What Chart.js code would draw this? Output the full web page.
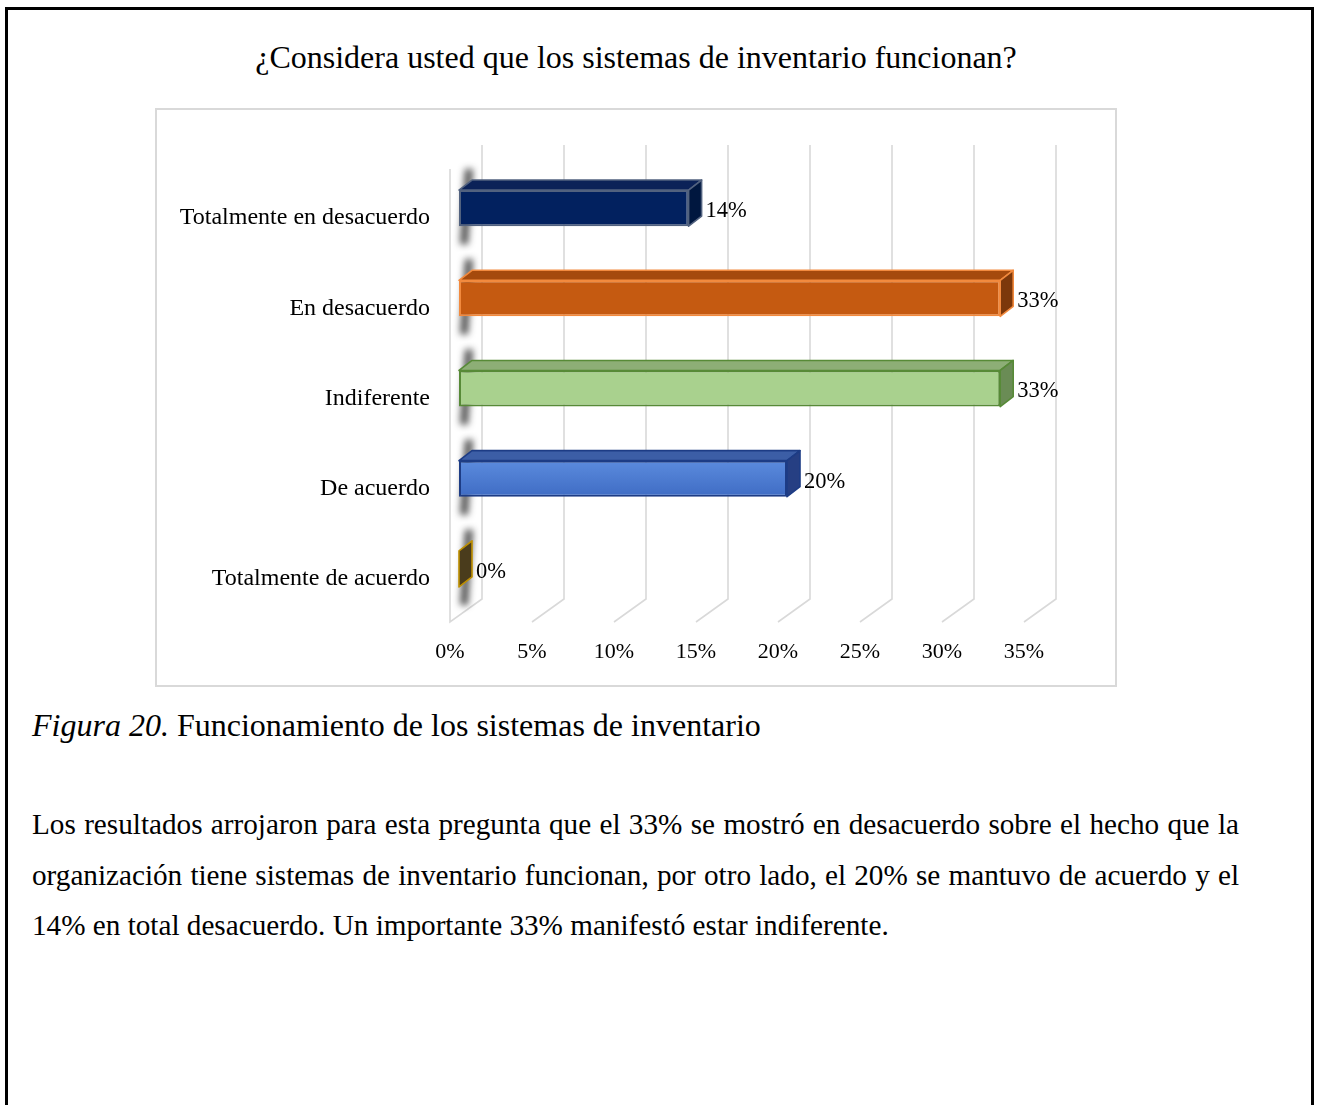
<!DOCTYPE html>
<html lang="es">
<head>
<meta charset="utf-8">
<title>Funcionamiento de los sistemas de inventario</title>
<script src="https://cdn.jsdelivr.net/npm/chart.js@4.4.1/dist/chart.umd.min.js"></script>
<style>
  html, body { margin: 0; padding: 0; background: #fff; width: 1317px; height: 1105px; overflow: hidden;
    font-family: "Liberation Serif", "Times New Roman", serif; color: #000; }
  .page { position: absolute; left: 5px; top: 7px; width: 1309px; height: 1200px; box-sizing: border-box;
    border: 3px solid #000; border-bottom: none; }
  .title { position: absolute; left: 155px; top: 37px; width: 962px; text-align: center; font-size: 32px; line-height: 40px; }
  .box { position: absolute; left: 155px; top: 108px; width: 962px; height: 579px; box-sizing: border-box; border: 2px solid #d9d9d9; }
  .chart { position: absolute; left: 155px; top: 108px; width: 962px; height: 579px; }
  .caption { position: absolute; left: 32px; top: 705px; font-size: 32px; line-height: 40px; white-space: nowrap; }
  .para { position: absolute; left: 32px; top: 799px; width: 1207px; font-size: 29.2px; line-height: 50.5px; }
  .para .j { text-align: justify; text-align-last: justify; }
</style>
</head>
<body>
<div class="page"></div>
<div class="title">¿Considera usted que los sistemas de inventario funcionan?</div>
<div class="box"></div>
<div class="chart"><canvas id="c" width="962" height="579"></canvas></div>
<div class="caption"><i>Figura 20.</i> Funcionamiento de los sistemas de inventario</div>
<div class="para">
  <div class="j">Los resultados arrojaron para esta pregunta que el 33% se mostró en desacuerdo sobre el hecho que la</div>
  <div class="j">organización tiene sistemas de inventario funcionan, por otro lado, el 20% se mantuvo de acuerdo y el</div>
  <div>14% en total desacuerdo. Un importante 33% manifestó estar indiferente.</div>
</div>
<script>
// Survey answers and their shares (%)
const categories = ['Totalmente en desacuerdo', 'En desacuerdo', 'Indiferente', 'De acuerdo', 'Totalmente de acuerdo'];
const percentages = [14, 33, 33, 20, 0];
const tickValues = [0, 5, 10, 15, 20, 25, 30, 35];

// Palette: front face, edge, top face, end face
const frontColors = ['#02215f', '#c55a11', '#a9d18e', '#4472c4', '#7f6000'];
const edgeColors  = ['#52627f', '#f28a3e', '#578a37', '#1d3c85', '#bf9000'];
const topColors   = ['#0b2258', '#a54a0d', '#8dae76', '#3c5ea6', '#6b5410'];
const sideColors  = ['#00173f', '#7c380b', '#6a8c55', '#263f83', '#4a3c1c'];

const FONT = '"Liberation Serif", "Times New Roman", serif';

// 3D offsets relative to the bar front-face plane
const BAR_DX = 13, BAR_DY = -10;   // bar depth
const BACK_DX = 23, FRONT_DX = -9; // back wall and front floor edge

const wallsPlugin = {
  id: 'walls',
  beforeDatasetsDraw(chart) {
    const { ctx, chartArea: a, scales: { x } } = chart;
    ctx.save();
    ctx.strokeStyle = '#d9d9d9';
    ctx.lineWidth = 1.6;
    ctx.lineJoin = 'miter';
    x.ticks.forEach(t => {
      const px = x.getPixelForValue(t.value);
      ctx.beginPath();
      ctx.moveTo(px + BACK_DX, a.top - 18);
      ctx.lineTo(px + BACK_DX, a.bottom - 15);
      ctx.lineTo(px + FRONT_DX, a.bottom + 8);
      if (t.value === 0) ctx.lineTo(px + FRONT_DX, a.top + 6);
      ctx.stroke();
    });
    ctx.restore();

    // soft shadow cast by each bar on the side wall
    const meta = chart.getDatasetMeta(0);
    ctx.save();
    ctx.filter = 'blur(3.5px)';
    ctx.fillStyle = 'rgba(20,20,20,0.75)';
    meta.data.forEach(el => {
      const top = el.y - el.height / 2, bottom = el.y + el.height / 2, b = el.base;
      ctx.beginPath();
      ctx.moveTo(b + 6, top - 21);
      ctx.lineTo(b + 14, top - 21);
      ctx.lineTo(b + 9, bottom + 18);
      ctx.lineTo(b + 1, bottom + 18);
      ctx.closePath();
      ctx.fill();
    });
    ctx.restore();
  },
  afterDatasetsDraw(chart) {
    const { ctx } = chart;
    const meta = chart.getDatasetMeta(0);
    ctx.save();
    ctx.lineWidth = 1.6;
    ctx.lineJoin = 'round';
    meta.data.forEach((el, i) => {
      const top = el.y - el.height / 2, bottom = el.y + el.height / 2;
      const b = el.base, e = el.x;
      // top face
      if (e - b > 0.5) {
        ctx.beginPath();
        ctx.moveTo(b, top);
        ctx.lineTo(e, top);
        ctx.lineTo(e + BAR_DX, top + BAR_DY);
        ctx.lineTo(b + BAR_DX, top + BAR_DY);
        ctx.closePath();
        ctx.fillStyle = topColors[i];
        ctx.fill();
        ctx.strokeStyle = edgeColors[i];
        ctx.stroke();
      }
      // end face
      ctx.beginPath();
      ctx.moveTo(e, top);
      ctx.lineTo(e + BAR_DX, top + BAR_DY);
      ctx.lineTo(e + BAR_DX, bottom + BAR_DY);
      ctx.lineTo(e, bottom);
      ctx.closePath();
      ctx.fillStyle = sideColors[i];
      ctx.fill();
      ctx.strokeStyle = edgeColors[i];
      ctx.stroke();
    });
    ctx.restore();

    // value labels
    ctx.save();
    ctx.font = '22.5px ' + FONT;
    ctx.fillStyle = '#000';
    ctx.textAlign = 'left';
    ctx.textBaseline = 'middle';
    meta.data.forEach((el, i) => {
      ctx.fillText(percentages[i] + '%', el.x + BAR_DX + 4, el.y + 3);
    });
    ctx.restore();
  }
};

function frontFill(context) {
  const i = context.dataIndex;
  const chart = context.chart;
  if (i === 3 && chart.chartArea) {
    const y = chart.scales.y.getPixelForValue(i);
    const g = chart.ctx.createLinearGradient(0, y - 18, 0, y + 18);
    g.addColorStop(0, '#5b8bdd');
    g.addColorStop(1, '#3f6cc4');
    return g;
  }
  return frontColors[i];
}

new Chart(document.getElementById('c'), {
  type: 'bar',
  data: {
    labels: categories,
    datasets: [{
      data: percentages,
      backgroundColor: frontFill,
      borderColor: edgeColors,
      borderWidth: 2,
      borderSkipped: false,
      barPercentage: 0.4,
      categoryPercentage: 1.0
    }]
  },
  options: {
    indexAxis: 'y',
    responsive: false,
    animation: false,
    layout: { padding: { top: 55, right: 84, left: 0, bottom: 0 } },
    plugins: { legend: { display: false }, tooltip: { enabled: false }, title: { display: false } },
    scales: {
      x: {
        min: 0, max: 35,
        grid: { display: false, drawTicks: false },
        border: { display: false },
        afterBuildTicks: s => { s.ticks = tickValues.map(v => ({ value: v })); },
        afterFit: s => { s.height = 73; },
        ticks: { padding: 25, labelOffset: FRONT_DX, color: '#000', font: { family: FONT, size: 22 },
                 callback: v => v + '%' }
      },
      y: {
        grid: { display: false, drawTicks: false },
        border: { display: false },
        afterFit: s => { s.width = 304; },
        ticks: { padding: 29, labelOffset: 10, color: '#000', font: { family: FONT, size: 24 } }
      }
    }
  },
  plugins: [wallsPlugin]
});
</script>
</body>
</html>
